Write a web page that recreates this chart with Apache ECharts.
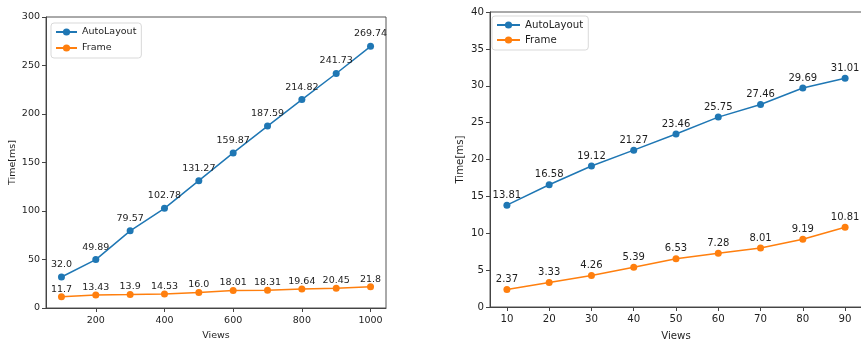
<!DOCTYPE html>
<html>
<head>
<meta charset="utf-8">
<script src="https://cdn.jsdelivr.net/npm/echarts@6/dist/echarts.min.js"></script>
<style>
html,body{margin:0;padding:0;background:#fff;}
#c{width:861px;height:341px;}
</style>
</head>
<body>
<div id="c"></div>
<script>
// ---- data ----
const leftViews = [100, 200, 300, 400, 500, 600, 700, 800, 900, 1000];
const leftAutoLayout = [32.0, 49.89, 79.57, 102.78, 131.27, 159.87, 187.59, 214.82, 241.73, 269.74];
const leftFrame = [11.7, 13.43, 13.9, 14.53, 16.0, 18.01, 18.31, 19.64, 20.45, 21.8];
const leftXTicks = [200, 400, 600, 800, 1000];

const rightViews = [10, 20, 30, 40, 50, 60, 70, 80, 90];
const rightAutoLayout = [13.81, 16.58, 19.12, 21.27, 23.46, 25.75, 27.46, 29.69, 31.01];
const rightFrame = [2.37, 3.33, 4.26, 5.39, 6.53, 7.28, 8.01, 9.19, 10.81];
const rightXTicks = [10, 20, 30, 40, 50, 60, 70, 80, 90];

const BLUE = '#1f77b4', ORANGE = '#ff7f0e';
const FONT = 'DejaVu Sans';
const TXT = '#1e1e1e';

function fmt(v) { return Number.isInteger(v) ? v.toFixed(1) : String(v); }
function pairs(xs, ys) { return xs.map((x, i) => [x, ys[i]]); }

const chart = echarts.init(document.getElementById('c'), null, {renderer: 'canvas'});

function xAxisCfg(grid, min, max, ticks, fs, margin, gap) {
  return {
    type: 'value', gridIndex: grid, min: min, max: max,
    name: 'Views', nameLocation: 'middle', nameGap: gap,
    nameTextStyle: {fontFamily: FONT, fontSize: fs, color: TXT},
    axisLine: {show: true, onZero: false, lineStyle: {color: '#444', width: 1}},
    axisTick: {show: true, inside: false, length: 4, lineStyle: {color: '#444'}, customValues: ticks},
    axisLabel: {fontFamily: FONT, fontSize: fs, color: TXT, margin: margin, customValues: ticks,
      formatter: v => String(v)},
    splitLine: {show: false}
  };
}
function yAxisCfg(grid, max, interval, fs, gap) {
  return {
    type: 'value', gridIndex: grid, min: 0, max: max, interval: interval,
    name: 'Time[ms]', nameLocation: 'middle', nameGap: gap, nameRotate: 90,
    nameTextStyle: {fontFamily: FONT, fontSize: fs, color: TXT},
    axisLine: {show: true, onZero: false, lineStyle: {color: '#444', width: 1}},
    axisTick: {show: true, inside: false, length: 4, lineStyle: {color: '#444'}},
    axisLabel: {fontFamily: FONT, fontSize: fs, color: TXT, margin: 6, formatter: v => String(v)},
    splitLine: {show: false}
  };
}
function seriesCfg(name, color, xi, data, fs, dist) {
  return {
    name: name, type: 'line', xAxisIndex: xi, yAxisIndex: xi,
    data: data, symbol: 'circle', symbolSize: 7,
    itemStyle: {color: color}, lineStyle: {color: color, width: 1.5},
    label: {show: true, position: 'top', distance: dist,
      fontFamily: FONT, fontSize: fs, color: TXT,
      formatter: p => fmt(p.value[1])},
    animation: false
  };
}
function legendCfg(left, top, fs, iw, gap) {
  return {
    orient: 'vertical', left: left, top: top,
    data: ['AutoLayout', 'Frame'],
    itemWidth: iw, itemHeight: 9, itemGap: gap, itemTextGap: 6,
    padding: [4, 5, 5, 4],
    borderColor: '#d9d9d9', borderWidth: 1, borderRadius: 3,
    backgroundColor: '#fff',
    textStyle: {fontFamily: FONT, fontSize: fs, color: TXT},
    selectedMode: false
  };
}

chart.setOption({
  animation: false,
  backgroundColor: '#fff',
  grid: [
    {left: 46, top: 17, width: 340, height: 291, show: true, borderColor: '#555', borderWidth: 1,
      containLabel: false, outerBoundsMode: 'none'},
    {left: 490, top: 12, width: 372, height: 295, show: true, borderColor: '#555', borderWidth: 1,
      containLabel: false, outerBoundsMode: 'none'}
  ],
  xAxis: [
    xAxisCfg(0, 55, 1045, leftXTicks, 9.5, 8, 18),
    xAxisCfg(1, 6, 94, rightXTicks, 10.2, 7, 24)
  ],
  yAxis: [
    yAxisCfg(0, 300, 50, 9.5, 28),
    yAxisCfg(1, 40, 5, 10.2, 25)
  ],
  legend: [
    legendCfg(51, 23, 9.5, 21, 6),
    legendCfg(492, 16, 10.2, 23, 5)
  ],
  series: [
    seriesCfg('AutoLayout', BLUE, 0, pairs(leftViews, leftAutoLayout), 9.5, 4),
    seriesCfg('Frame', ORANGE, 0, pairs(leftViews, leftFrame), 9.5, -1),
    seriesCfg('AutoLayout', BLUE, 1, pairs(rightViews, rightAutoLayout), 10, 1.5),
    seriesCfg('Frame', ORANGE, 1, pairs(rightViews, rightFrame), 10, 1.5)
  ]
});
</script>
</body>
</html>
